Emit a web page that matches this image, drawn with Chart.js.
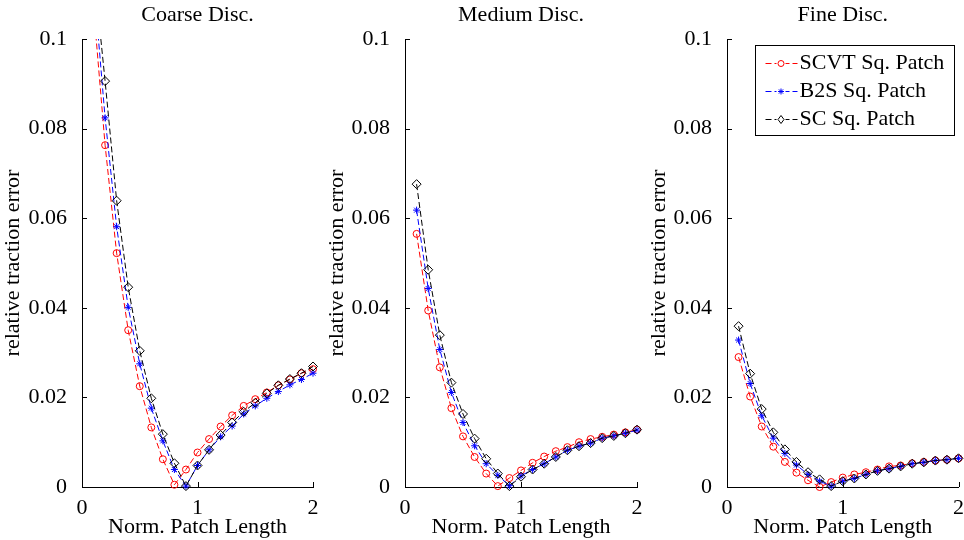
<!DOCTYPE html>
<html>
<head>
<meta charset="utf-8">
<script src="https://cdn.jsdelivr.net/npm/chart.js@4.4.1/dist/chart.umd.min.js"></script>
<style>
    html, body { margin: 0; padding: 0; background: #fff; width: 964px; height: 540px; overflow: hidden; }
    .panel { position: absolute; top: 0; height: 540px; }
    .panel canvas { display: block; }
</style>
</head>
<body>
<div class="panel" style="left:0px;width:324px"><canvas id="coarseChart" width="324" height="540"></canvas></div>
<div class="panel" style="left:324px;width:322px"><canvas id="mediumChart" width="322" height="540"></canvas></div>
<div class="panel" style="left:646px;width:318px"><canvas id="fineChart" width="318" height="540"></canvas></div>
<script>
// Datos
const xValues = [0.1, 0.2, 0.3, 0.4, 0.5, 0.6, 0.7, 0.8, 0.9, 1.0, 1.1, 1.2, 1.3, 1.4, 1.5, 1.6, 1.7, 1.8, 1.9, 2.0];

const coarseSCVT = [0.107, 0.0763, 0.0522, 0.0350, 0.0225, 0.0133, 0.0062, 0.0005, 0.0039, 0.0077, 0.0107, 0.0135, 0.0160, 0.0181, 0.0196, 0.0211, 0.0227, 0.0240, 0.0254, 0.0263];
const coarseB2S  = [0.113, 0.0824, 0.0581, 0.0401, 0.0275, 0.0176, 0.0103, 0.0039, 0.0002, 0.0048, 0.0083, 0.0112, 0.0136, 0.0163, 0.0181, 0.0198, 0.0213, 0.0228, 0.0240, 0.0254];
const coarseSC   = [0.116, 0.0906, 0.0639, 0.0446, 0.0304, 0.0198, 0.0118, 0.0053, 0.0002, 0.0048, 0.0083, 0.0116, 0.0144, 0.0168, 0.0188, 0.0209, 0.0227, 0.0241, 0.0254, 0.0269];

const mediumSCVT = [0.0565, 0.0394, 0.0267, 0.0176, 0.0113, 0.0067, 0.0030, 0.0002, 0.0020, 0.0037, 0.0054, 0.0068, 0.0080, 0.0089, 0.0100, 0.0107, 0.0112, 0.0117, 0.0122, 0.0128];
const mediumB2S  = [0.0618, 0.0443, 0.0307, 0.0211, 0.0144, 0.0092, 0.0052, 0.0026, 0.0003, 0.0025, 0.0039, 0.0052, 0.0067, 0.0082, 0.0091, 0.0098, 0.0109, 0.0114, 0.0120, 0.0127];
const mediumSC   = [0.0676, 0.0485, 0.0339, 0.0233, 0.0163, 0.0108, 0.0063, 0.0030, 0.0002, 0.0023, 0.0039, 0.0052, 0.0067, 0.0082, 0.0091, 0.0098, 0.0109, 0.0114, 0.0120, 0.0128];

const fineSCVT = [0.0290, 0.0202, 0.0135, 0.0090, 0.0056, 0.0032, 0.0015, 0.0000, 0.0011, 0.0021, 0.0028, 0.0033, 0.0039, 0.0046, 0.0048, 0.0053, 0.0056, 0.0059, 0.0061, 0.0064];
const fineB2S  = [0.0328, 0.0231, 0.0159, 0.0109, 0.0075, 0.0049, 0.0028, 0.0013, 0.0002, 0.0013, 0.0019, 0.0028, 0.0036, 0.0041, 0.0046, 0.0052, 0.0055, 0.0059, 0.0061, 0.0064];
const fineSC   = [0.0359, 0.0253, 0.0174, 0.0122, 0.0084, 0.0056, 0.0033, 0.0017, 0.0002, 0.0013, 0.0019, 0.0028, 0.0036, 0.0041, 0.0046, 0.0052, 0.0055, 0.0059, 0.0061, 0.0064];

const panelTitles = ['Coarse Disc.', 'Medium Disc.', 'Fine Disc.'];
const seriesNames = ['SCVT Sq. Patch', 'B2S Sq. Patch', 'SC Sq. Patch'];
const xTicks = [0, 1, 2];
const xTickLabels = ['0', '1', '2'];
const yTicks = [0, 0.02, 0.04, 0.06, 0.08, 0.1];
const yTickLabels = ['0', '0.02', '0.04', '0.06', '0.08', '0.1'];
const xAxisTitle = 'Norm. Patch Length';
const yAxisTitle = 'relative traction error';

// Estilos
const FONT = "'Liberation Serif', 'Times New Roman', serif";
const seriesStyles = [
    { color: '#ff0000', pointStyle: 'circle', radius: 3.5, order: 3 },
    { color: '#0000ff', pointStyle: 'star', radius: 3.5, order: 2 },
    { color: '#000000', pointStyle: 'rectRot', radius: 4.5, order: 1 }
];

Chart.defaults.font.family = FONT;
Chart.defaults.font.size = 22;
Chart.defaults.color = '#000';

// Marcadores para la leyenda
function drawMarker(ctx, style, x, y, r) {
    ctx.beginPath();
    if (style === 'circle') {
        ctx.arc(x, y, r, 0, Math.PI * 2);
    } else if (style === 'star') {
        const d = r * Math.SQRT1_2;
        ctx.moveTo(x - r, y); ctx.lineTo(x + r, y);
        ctx.moveTo(x, y - r); ctx.lineTo(x, y + r);
        ctx.moveTo(x - d, y - d); ctx.lineTo(x + d, y + d);
        ctx.moveTo(x - d, y + d); ctx.lineTo(x + d, y - d);
    } else {
        ctx.moveTo(x, y - r); ctx.lineTo(x + r * 0.75, y);
        ctx.lineTo(x, y + r); ctx.lineTo(x - r * 0.75, y);
        ctx.closePath();
    }
    ctx.stroke();
}

// Marcas de eje hacia adentro
const tickMarks = {
    id: 'tickMarks',
    afterDraw(chart) {
        const { ctx, chartArea, scales } = chart;
        ctx.save();
        ctx.strokeStyle = '#000';
        ctx.lineWidth = 1;
        ctx.beginPath();
        yTicks.forEach(v => {
            const py = Math.round(scales.y.getPixelForValue(v)) + 0.5;
            ctx.moveTo(chartArea.left, py);
            ctx.lineTo(chartArea.left + 5, py);
        });
        xTicks.forEach(v => {
            const px = Math.round(scales.x.getPixelForValue(v)) + 0.5;
            ctx.moveTo(px, chartArea.bottom);
            ctx.lineTo(px, chartArea.bottom - 5);
        });
        ctx.stroke();
        ctx.restore();
    }
};

// Leyenda dentro del area del grafico (solo panel fino)
const legendBox = {
    id: 'legendBox',
    afterDraw(chart) {
        const { ctx, chartArea } = chart;
        const bx = Math.round(chartArea.left + 28) + 0.5;
        const by = Math.round(chartArea.top + 6) + 0.5;
        const bw = Math.round(chartArea.right - 4 - bx);
        const bh = 90;
        ctx.save();
        ctx.fillStyle = '#fff';
        ctx.fillRect(bx, by, bw, bh);
        ctx.strokeStyle = '#000';
        ctx.lineWidth = 1;
        ctx.strokeRect(bx, by, bw, bh);
        ctx.font = '22px ' + FONT;
        ctx.textBaseline = 'middle';
        ctx.textAlign = 'left';
        seriesNames.forEach((name, i) => {
            const st = seriesStyles[i];
            const cy = Math.round(by + 17 + i * 28.3) + 0.5;
            ctx.strokeStyle = st.color;
            ctx.setLineDash([6, 3]);
            ctx.beginPath();
            ctx.moveTo(bx + 10, cy);
            ctx.lineTo(bx + 42, cy);
            ctx.stroke();
            ctx.setLineDash([]);
            ctx.fillStyle = '#fff';
            ctx.fillRect(bx + 21, cy - 4, 9, 8);
            drawMarker(ctx, st.pointStyle, bx + 25.5, cy, st.pointStyle === 'rectRot' ? 4 : 3);
            ctx.fillStyle = '#000';
            ctx.fillText(name, bx + 44, cy);
        });
        ctx.restore();
    }
};

function buildDatasets(series) {
    return series.map((values, i) => {
        const st = seriesStyles[i];
        return {
            label: seriesNames[i],
            data: xValues.map((x, k) => ({ x: x, y: values[k] })),
            borderColor: st.color,
            borderWidth: 1,
            borderDash: [6, 3],
            pointStyle: st.pointStyle,
            pointRadius: st.radius,
            pointBorderColor: st.color,
            pointBackgroundColor: 'rgba(0,0,0,0)',
            pointBorderWidth: 1,
            tension: 0,
            order: st.order,
            clip: { left: false, top: 0, right: false, bottom: false }
        };
    });
}

function makeChart(canvasId, title, series, yWidth, padRight, extraPlugins) {
    return new Chart(document.getElementById(canvasId), {
        type: 'line',
        data: { datasets: buildDatasets(series) },
        options: {
            responsive: false,
            animation: false,
            events: [],
            layout: { padding: { left: 0, right: padRight, top: 0, bottom: 0 } },
            plugins: {
                legend: { display: false },
                tooltip: { enabled: false },
                title: {
                    display: true,
                    text: title,
                    fullSize: false,
                    color: '#000',
                    font: { family: FONT, size: 22, weight: 'normal' },
                    padding: { top: 1.8, bottom: 10.8 }
                }
            },
            scales: {
                x: {
                    type: 'linear',
                    min: 0,
                    max: 2,
                    afterBuildTicks: s => { s.ticks = xTicks.map(v => ({ value: v })); },
                    afterFit: s => { s.height = 53; s.paddingLeft = 0; s.paddingRight = 0; },
                    ticks: {
                        callback: v => xTickLabels[xTicks.indexOf(v)],
                        padding: 0,
                        maxRotation: 0,
                        autoSkip: false,
                        color: '#000',
                        font: { family: FONT, size: 22 }
                    },
                    grid: { display: false },
                    border: { display: true, color: '#000', width: 1 },
                    title: {
                        display: true,
                        text: xAxisTitle,
                        color: '#000',
                        font: { family: FONT, size: 22 },
                        padding: { top: 0, bottom: 0 }
                    }
                },
                y: {
                    type: 'linear',
                    min: 0,
                    max: 0.1,
                    afterBuildTicks: s => { s.ticks = yTicks.map(v => ({ value: v })); },
                    afterFit: s => { s.width = yWidth; s.paddingTop = 0; s.paddingBottom = 0; },
                    ticks: {
                        callback: v => yTickLabels[yTicks.indexOf(v)],
                        padding: 7,
                        color: '#000',
                        font: { family: FONT, size: 22 }
                    },
                    grid: { display: false },
                    border: { display: true, color: '#000', width: 1 },
                    title: {
                        display: true,
                        text: yAxisTitle,
                        color: '#000',
                        font: { family: FONT, size: 22 },
                        padding: { top: 0, bottom: 0 }
                    }
                }
            }
        },
        plugins: [tickMarks].concat(extraPlugins || [])
    });
}

document.addEventListener('DOMContentLoaded', function () {
    makeChart('coarseChart', panelTitles[0], [coarseSCVT, coarseB2S, coarseSC], 82, 11);
    makeChart('mediumChart', panelTitles[1], [mediumSCVT, mediumB2S, mediumSC], 81, 9);
    makeChart('fineChart', panelTitles[2], [fineSCVT, fineB2S, fineSC], 81, 4, [legendBox]);
});
</script>
</body>
</html>
